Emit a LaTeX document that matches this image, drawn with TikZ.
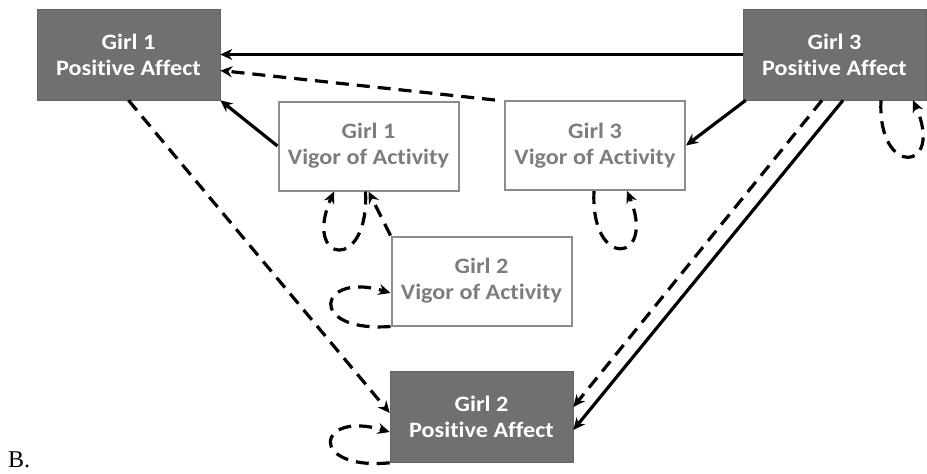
\documentclass[tikz,border=0pt]{standalone}
\usepackage{fontspec}
\newfontfamily\boxfont[FakeStretch=1.1,Ligatures=NoCommon]{Carlito}
\newfontfamily\labfont{Liberation Serif}
\usetikzlibrary{arrows.meta}
\definecolor{darkbox}{RGB}{112,112,112}
\definecolor{lightedge}{RGB}{140,140,140}
\definecolor{lighttext}{RGB}{125,125,125}
\begin{document}
\begin{tikzpicture}[x=1pt,y=-1pt,
  pabox/.style={draw=darkbox!90!black,line width=0.6pt,fill=darkbox,text=white,minimum width=183pt,minimum height=91pt,inner sep=0pt,align=center,font=\boxfont\bfseries\fontsize{22}{26}\selectfont},
  vabox/.style={draw=lightedge,line width=2pt,fill=white,text=lighttext,minimum width=180pt,minimum height=89pt,inner sep=0pt,align=center,font=\boxfont\bfseries\fontsize{22}{26}\selectfont},
  sarr/.style={line width=3.2pt,-{Stealth[length=12pt,width=11pt]}},
  darr/.style={line width=3.2pt,dash pattern=on 13pt off 8pt,-{Stealth[length=12pt,width=11pt]}}]
\useasboundingbox (0,0) rectangle (927,474);
\node[pabox] (g1pa) at (128.5,54.5) {Girl 1\\Positive Affect};
\node[pabox] (g3pa) at (834.5,54.5) {Girl 3\\Positive Affect};
\node[vabox] (g1va) at (368.5,146) {Girl 1\\Vigor of Activity};
\node[vabox] (g3va) at (595,145.5) {Girl 3\\Vigor of Activity};
\node[vabox] (g2va) at (481.5,281) {Girl 2\\Vigor of Activity};
\node[pabox] (g2pa) at (481.5,417) {Girl 2\\Positive Affect};
\node[anchor=base west,inner sep=0pt,font=\labfont\fontsize{24}{24}\selectfont] (lab) at (8,467) {B.};
% main paths
\draw[sarr] (g3pa.west) -- (g1pa.east);
\draw[darr] ([xshift=-9pt]g3va.north west) -- ([yshift=-16pt]g1pa.east);
\draw[sarr] (g1va.west) -- (g1pa.south east);
\draw[sarr] ([xshift=3pt]g3pa.south west) -- (g3va.east);
\draw[darr] (g1pa.south) -- ([yshift=4pt]g2pa.west);
\draw[darr] ([xshift=-12.5pt]g3pa.south) -- ([yshift=10pt]g2pa.east);
\draw[sarr] ([xshift=8.5pt]g3pa.south) -- ([yshift=-13pt]g2pa.east);
\draw[darr] (g2va.north west) -- (g1va.south);
% loops
\draw[darr] ([xshift=-3pt]g1va.south) .. controls +(4,82) and +(-32,72) .. ([xshift=-34.5pt]g1va.south);
\draw[darr] ([xshift=-1pt]g3va.south) .. controls +(-4,80) and +(30,72) .. ([xshift=32pt]g3va.south);
\draw[darr] ([xshift=46.5pt]g3pa.south) .. controls +(-4,78) and +(32,72) .. ([xshift=78.5pt]g3pa.south);
\draw[darr] (g2va.south west) .. controls +(-85,6) and +(-72,-22) .. ([yshift=-12pt]g2va.west);
\draw[darr] (g2pa.south west) .. controls +(-82,8) and +(-74,-22) .. ([yshift=-15pt]g2pa.west);
\end{tikzpicture}
\end{document}
